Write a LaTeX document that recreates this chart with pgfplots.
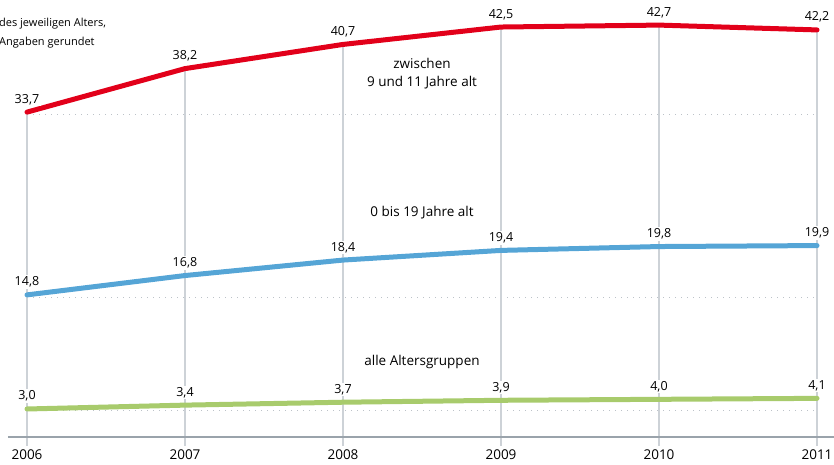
\documentclass[border=0pt]{standalone}
\usepackage{pgfplots}
\pgfplotsset{compat=1.18}
\usepackage{fontspec}
\setmainfont{Open Sans}
\definecolor{cred}{HTML}{E2001A}
\definecolor{cblue}{HTML}{55A5D6}
\definecolor{cgreen}{HTML}{A8CB6C}
\definecolor{cgrid}{HTML}{CDD2D7}
\definecolor{caxis}{HTML}{9AA3AB}
\definecolor{cdot}{HTML}{BCC2C8}
\begin{document}
\begin{tikzpicture}[x=1pt,y=1pt]
\useasboundingbox (0,0) rectangle (834,464);
\node[anchor=base west, inner sep=0, font=\fontsize{11}{12}\selectfont] at (-1,437) {des jeweiligen Alters,};
\node[anchor=base west, inner sep=0, font=\fontsize{11}{12}\selectfont] at (-1,418) {Angaben gerundet};
\begin{axis}[
  at={(27pt,26pt)}, anchor=south west,
  scale only axis, width=790pt, height=435.15pt,
  xmin=2006, xmax=2011, ymin=0, ymax=45,
  clip=false,
  axis line style={draw=none},
  ytick=\empty,
  xtick={2006,2007,2008,2009,2010,2011},
  xtick pos=left,
  tick align=outside,
  major tick length=8pt,
  xtick style={draw=cgrid, line width=1.3pt},
  xticklabel style={font=\fontsize{13.5}{15}\selectfont, text=black, /pgf/number format/1000 sep={}, /pgf/number format/assume math mode=true},
  nodes near coords style={font=\fontsize{12.5}{14}\selectfont, anchor=base, yshift=9pt, inner sep=1.5pt, fill=white, text=black,
    /pgf/number format/.cd, use comma, fixed, fixed zerofill, precision=1, assume math mode=true},
]
% dotted reference lines
\addplot[cdot, line width=1pt, dash pattern=on 1pt off 5pt, forget plot] coordinates {(2006,33.5) (2011,33.5)};
\addplot[cdot, line width=1pt, dash pattern=on 1pt off 5pt, forget plot] coordinates {(2006,14.5) (2011,14.5)};
\addplot[cdot, line width=1pt, dash pattern=on 1pt off 5pt, forget plot] coordinates {(2006,2.8) (2011,2.8)};
% vertical lines
\addplot[ycomb, cgrid, line width=1.3pt, forget plot] coordinates {(2006,33.7) (2007,38.2) (2008,40.7) (2009,42.5) (2010,42.7) (2011,42.2)};
% series
\addplot[cred, line width=5pt, line cap=round, line join=round, nodes near coords] coordinates {(2006,33.7) (2007,38.2) (2008,40.7) (2009,42.5) (2010,42.7) (2011,42.2)};
\addplot[cblue, line width=5pt, line cap=round, line join=round, nodes near coords] coordinates {(2006,14.8) (2007,16.8) (2008,18.4) (2009,19.4) (2010,19.8) (2011,19.9)};
\addplot[cgreen, line width=5pt, line cap=round, line join=round, nodes near coords] coordinates {(2006,3.0) (2007,3.4) (2008,3.7) (2009,3.9) (2010,4.0) (2011,4.1)};
\draw[caxis, line width=2pt] ([xshift=-19pt]axis cs:2006,0.1) -- ([xshift=17pt]axis cs:2011,0.1);
\node[align=center, font=\fontsize{13.5}{18}\selectfont] at (axis cs:2008.5,37.7) {zwischen\\9 und 11 Jahre alt};
\node[font=\fontsize{13.5}{18}\selectfont] at (axis cs:2008.5,23.3) {0 bis 19 Jahre alt};
\node[font=\fontsize{13.5}{18}\selectfont] at (axis cs:2008.5,7.9) {alle Altersgruppen};
\end{axis}
\end{tikzpicture}
\end{document}
